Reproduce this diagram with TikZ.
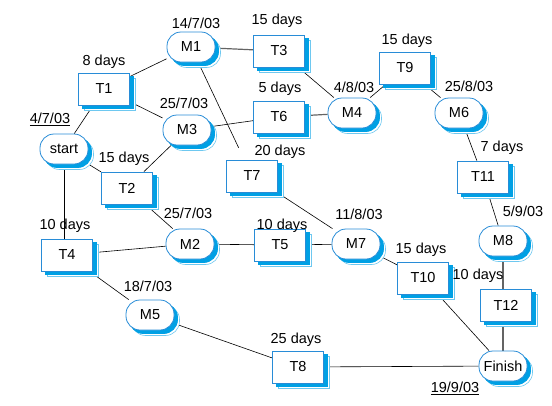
\documentclass[tikz,border=0pt]{standalone}
\usepackage{fontspec}
\setmainfont{Liberation Sans}
\usetikzlibrary{shadows,backgrounds}
\definecolor{edgeblue}{RGB}{40,140,215}
\definecolor{shadeblue}{RGB}{0,160,228}
\definecolor{lightblue}{RGB}{110,200,240}
\definecolor{edgegray}{RGB}{100,100,100}
\tikzset{
  x=1pt,y=-1pt,
  every node/.style={font=\fontsize{14.5}{16}\selectfont},
  shadowed/.style={
    copy shadow={shadow xshift=5.5pt, shadow yshift=-5.5pt, draw=lightblue, fill=white, line width=0.6pt},
    copy shadow={shadow xshift=3.5pt, shadow yshift=-3.5pt, draw=shadeblue, fill=shadeblue},
    draw=edgeblue, fill=white, line width=0.8pt},
  taskbox/.style={shadowed, rectangle, minimum width=51pt, minimum height=32pt, inner sep=0pt},
  mile/.style={shadowed, rectangle, rounded corners=14pt, minimum width=48pt, minimum height=30pt, inner sep=0pt},
  lbl/.style={inner sep=0pt},
  link/.style={draw=black, line width=0.6pt},
  glink/.style={draw=edgegray, line width=1.2pt}
}
\begin{document}
\begin{tikzpicture}
\useasboundingbox (0,0) rectangle (552,405);
% nodes
\node[mile] (start) at (64,149) {start};
\node[taskbox] (T1) at (104,89) {T1};
\node[mile] (M1) at (191,47) {M1};
\node[mile] (M3) at (187,130) {M3};
\node[taskbox] (T2) at (127,188) {T2};
\node[taskbox] (T3) at (279,51) {T3};
\node[taskbox] (T6) at (279,117) {T6};
\node[taskbox] (T7) at (252,176) {T7};
\node[mile] (M4) at (352,113) {M4};
\node[taskbox] (T9) at (405,68) {T9};
\node[mile] (M6) at (459,113) {M6};
\node[taskbox] (T11) at (483,177) {T11};
\node[mile] (M8) at (503,241) {M8};
\node[taskbox] (T12) at (506,305) {T12};
\node[mile] (Finish) at (503,366) {Finish};
\node[taskbox] (T10) at (423,278) {T10};
\node[mile] (M7) at (356,244) {M7};
\node[taskbox] (T5) at (280,245) {T5};
\node[mile] (M2) at (190,244) {M2};
\node[taskbox] (T4) at (67,255) {T4};
\node[mile] (M5) at (150,315) {M5};
\node[taskbox] (T8) at (298,367) {T8};
% labels
\node[lbl] (l1) at (196,23) {14/7/03};
\node[lbl] (l2) at (104,62) {8 days};
\node[lbl] (l3) at (184,103) {25/7/03};
\node[lbl] (l4) at (50,119) {\underline{4/7/03}};
\node[lbl] (l5) at (124,159) {15 days};
\node[lbl] (l6) at (277,21) {15 days};
\node[lbl] (l7) at (280,89) {5 days};
\node[lbl] (l8) at (280,152) {20 days};
\node[lbl] (l9) at (354,87) {4/8/03};
\node[lbl] (l10) at (407,41) {15 days};
\node[lbl] (l11) at (469,86) {25/8/03};
\node[lbl] (l12) at (502,148) {7 days};
\node[lbl] (l13) at (523,211) {5/9/03};
\node[lbl] (l14) at (478,276) {10 days};
\node[lbl] (l15) at (455,388) {\underline{19/9/03}};
\node[lbl] (l16) at (421,250) {15 days};
\node[lbl] (l17) at (359,214) {11/8/03};
\node[lbl] (l18) at (282,226) {10 days};
\node[lbl] (l19) at (188,213) {25/7/03};
\node[lbl] (l20) at (65,226) {10 days};
\node[lbl] (l21) at (148,286) {18/7/03};
\node[lbl] (l22) at (296,340) {25 days};
% edges
\begin{scope}[on background layer]
\draw[link] (start) -- (T1);
\draw[link] (start) -- (T2);
\draw[link] (start.south) -- (start.south |- T4.north);
\draw[link] (T1) -- (M1);
\draw[link] (T1) -- (M3);
\draw[glink] (M1) -- (T3);
\draw[link, shorten >=13pt] (M1) -- (T7);
\draw[link] (M3) -- (T6);
\draw[link] (M3) -- (T2);
\draw[link] (T3) -- (M4);
\draw[glink] (T6) -- (M4);
\draw[link] (M4) -- (T9);
\draw[link] (T9) -- (M6);
\draw[link] (M6) -- (T11);
\draw[link] (T11) -- (M8);
\draw[glink] (M8) -- (M8 |- T12.north);
\draw[glink] (T12.south -| Finish) -- (Finish);
\draw[link] (T2) -- (M2);
\draw[link] (T4) -- (M2);
\draw[link] (M2) -- (T5);
\draw[link] (T5) -- (M7);
\draw[link] (T7) -- (M7);
\draw[link] (M7) -- (T10);
\draw[link] (T10) -- (Finish);
\draw[link] (T4) -- (M5);
\draw[link] (M5) -- (T8);
\draw[link] (T8) -- (Finish);
\end{scope}
\end{tikzpicture}
\end{document}
